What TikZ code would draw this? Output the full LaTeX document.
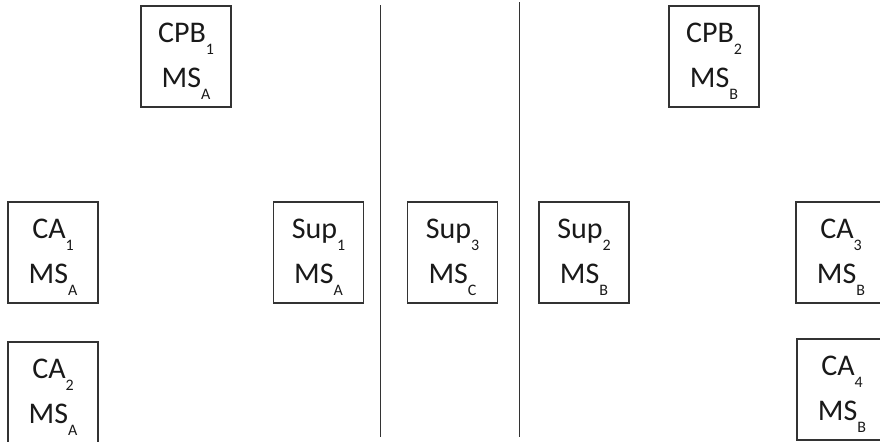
\documentclass[tikz,border=0pt]{standalone}
\usepackage{fontspec}
\setmainfont{Carlito}
\usepackage{tikz}
\newcommand{\lowsub}[1]{\raisebox{-6pt}{\fontsize{8}{9}\selectfont #1}}

\begin{document}
\begin{tikzpicture}[x=0.5pt, y=-0.5pt,
	unit/.style={draw=black!80, line width=0.65pt, inner sep=0pt, minimum width=45pt, minimum height=50.5pt,
		text height=40.5pt, text depth=10pt, align=center, font=\fontsize{15}{22.5}\selectfont, text=black!90},
	divider/.style={draw=black!80, line width=0.5pt}]
	\clip (0,0) rectangle (880,441);
	\foreach \nm/\px/\py/\la/\lb in {cpb1/186/56.5/CPB\lowsub{1}/MS\lowsub{A},
		ca1/53/252.5/CA\lowsub{1}/MS\lowsub{A},
		ca2/53/392.5/CA\lowsub{2}/MS\lowsub{A},
		sup1/318.5/252.5/Sup\lowsub{1}/MS\lowsub{A},
		sup3/452.5/252.5/Sup\lowsub{3}/MS\lowsub{C},
		sup2/584/252.5/Sup\lowsub{2}/MS\lowsub{B},
		cpb2/714/56.5/CPB\lowsub{2}/MS\lowsub{B},
		ca3/841/252.5/CA\lowsub{3}/MS\lowsub{B},
		ca4/842/389.5/CA\lowsub{4}/MS\lowsub{B}}
	{
		\node[unit] (\nm) at (\px,\py) {\la\\\lb};
	}
	\draw[divider] (380.5,5) -- (380.5,437);
	\draw[divider] (519.5,2) -- (519.5,437);
\end{tikzpicture}
\end{document}
